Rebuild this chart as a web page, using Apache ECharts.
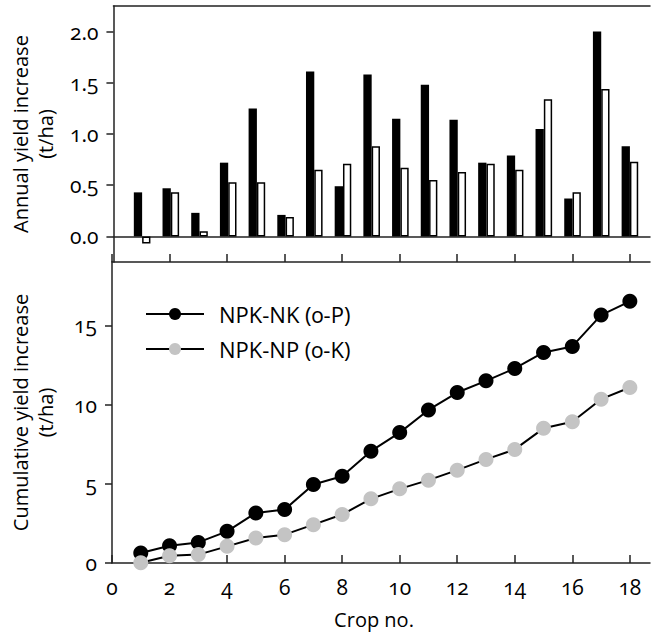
<!DOCTYPE html>
<html>
<head>
<meta charset="utf-8">
<script src="https://cdn.jsdelivr.net/npm/echarts@6/dist/echarts.min.js"></script>
<style>
html,body{margin:0;padding:0;background:#fff;}
#chart{width:651px;height:632px;}
svg text{font-variant-numeric:oldstyle-nums !important;font-feature-settings:"onum" 1 !important;}
</style>
</head>
<body>
<div id="chart"></div>
<script>
var crops = [1,2,3,4,5,6,7,8,9,10,11,12,13,14,15,16,17,18];
var annualNK = [0.43,0.47,0.23,0.72,1.25,0.21,1.61,0.49,1.58,1.15,1.48,1.14,0.72,0.79,1.05,0.37,2.00,0.88];
var annualNP = [-0.07,0.43,0.05,0.53,0.53,0.19,0.65,0.71,0.88,0.67,0.55,0.63,0.71,0.65,1.34,0.43,1.44,0.73];
var cumNK = [0.63,1.09,1.30,2.00,3.16,3.37,4.96,5.48,7.06,8.23,9.66,10.76,11.50,12.28,13.29,13.67,15.65,16.52];
var cumNP = [0.02,0.46,0.53,1.05,1.58,1.79,2.42,3.06,4.05,4.68,5.23,5.86,6.54,7.17,8.50,8.92,10.34,11.08];
var xTicks = [0,2,4,6,8,10,12,14,16,18];
var annualTicks = [0.0,0.5,1.0,1.5,2.0];
var cumTicks = [0,5,10,15];
var seriesNames = ['NPK-NK (0-P)','NPK-NP (0-K)'];

var FONT = 'Open Sans';
var AX = '#222';
function pairs(xs, ys){ return xs.map(function(x,i){ return [x, ys[i]]; }); }

var chart = echarts.init(document.getElementById('chart'), null, {renderer:'svg'});
var xBase = {type:'value', min:0, max:18.7, splitLine:{show:false}};
chart.setOption({
  animation:false,
  textStyle:{fontFamily:FONT},
  grid:[
    {left:110, right:1, top:6, height:256},
    {left:110, right:1, top:262, height:301}
  ],
  xAxis:[
    Object.assign({}, xBase, {gridIndex:0, position:'bottom',
      axisLine:{show:true, onZero:true, lineStyle:{color:AX, width:1.5}},
      axisTick:{show:false}, axisLabel:{show:false}}),
    Object.assign({}, xBase, {gridIndex:0, position:'top',
      axisLine:{show:true, onZero:false, lineStyle:{color:AX, width:1.5}},
      axisTick:{show:false}, axisLabel:{show:false}}),
    Object.assign({}, xBase, {gridIndex:1, position:'bottom',
      axisLine:{show:true, onZero:false, lineStyle:{color:AX, width:1.5}},
      axisTick:{show:true, inside:true, length:8, customValues:xTicks, lineStyle:{color:AX, width:1.5}},
      axisLabel:{show:true, customValues:xTicks, margin:13, color:'#000', fontSize:21, fontFamily:FONT},
      name:'Crop no.', nameLocation:'middle', nameGap:46,
      nameTextStyle:{color:'#000', fontSize:20, fontFamily:FONT, padding:[0,14,0,0]}}),
    Object.assign({}, xBase, {gridIndex:1, position:'top',
      axisLine:{show:true, onZero:false, lineStyle:{color:AX, width:1.5}},
      axisTick:{show:true, inside:false, length:8, customValues:xTicks, lineStyle:{color:AX, width:1.5}},
      axisLabel:{show:false}})
  ],
  yAxis:[
    {type:'value', gridIndex:0, min:-0.25, max:2.25, splitLine:{show:false},
      axisLine:{show:true, onZero:false, lineStyle:{color:AX, width:1.5}},
      axisTick:{show:true, inside:false, length:7, customValues:annualTicks, lineStyle:{color:AX, width:1.5}},
      axisLabel:{show:true, customValues:annualTicks, margin:15, color:'#000', fontSize:21, fontFamily:FONT,
        formatter:function(v){ return v.toFixed(1); }},
      name:'Annual yield increase\n(t/ha)', nameLocation:'middle', nameGap:54,
      nameTextStyle:{color:'#000', fontSize:20, lineHeight:25, fontFamily:FONT}},
    {type:'value', gridIndex:1, min:0, max:19, interval:5, splitLine:{show:false},
      axisLine:{show:true, onZero:false, lineStyle:{color:AX, width:1.5}},
      axisTick:{show:true, inside:false, length:7, customValues:cumTicks, lineStyle:{color:AX, width:1.5}},
      axisLabel:{show:true, customValues:cumTicks, margin:15, color:'#000', fontSize:21, fontFamily:FONT},
      name:'Cumulative yield increase\n(t/ha)', nameLocation:'middle', nameGap:54,
      nameTextStyle:{color:'#000', fontSize:20, lineHeight:25, fontFamily:FONT}}
  ],
  legend:{
    show:true, orient:'vertical', left:145, top:303, padding:0, itemWidth:58, itemHeight:15, itemGap:13,
    data:seriesNames,
    textStyle:{color:'#000', fontSize:22, fontFamily:FONT, lineHeight:15, padding:[0,0,0,10]}
  },
  series:[
    {type:'bar', name:'annualNK', xAxisIndex:0, yAxisIndex:0, data:pairs(crops, annualNK),
      barWidth:8.3, barGap:'0%', itemStyle:{color:'#000'}},
    {type:'bar', name:'annualNP', xAxisIndex:0, yAxisIndex:0, data:pairs(crops, annualNP),
      barWidth:8.3, barGap:'0%', itemStyle:{color:'#fff', borderColor:'#000', borderWidth:1.5}},
    {type:'line', name:seriesNames[0], xAxisIndex:2, yAxisIndex:1, data:pairs(crops, cumNK),
      symbol:'circle', symbolSize:15, lineStyle:{color:'#000', width:2},
      itemStyle:{color:'#000'}},
    {type:'line', name:seriesNames[1], xAxisIndex:2, yAxisIndex:1, data:pairs(crops, cumNP),
      symbol:'circle', symbolSize:15, lineStyle:{color:'#000', width:2},
      itemStyle:{color:'#c4c4c4'}}
  ]
});
</script>
</body>
</html>
